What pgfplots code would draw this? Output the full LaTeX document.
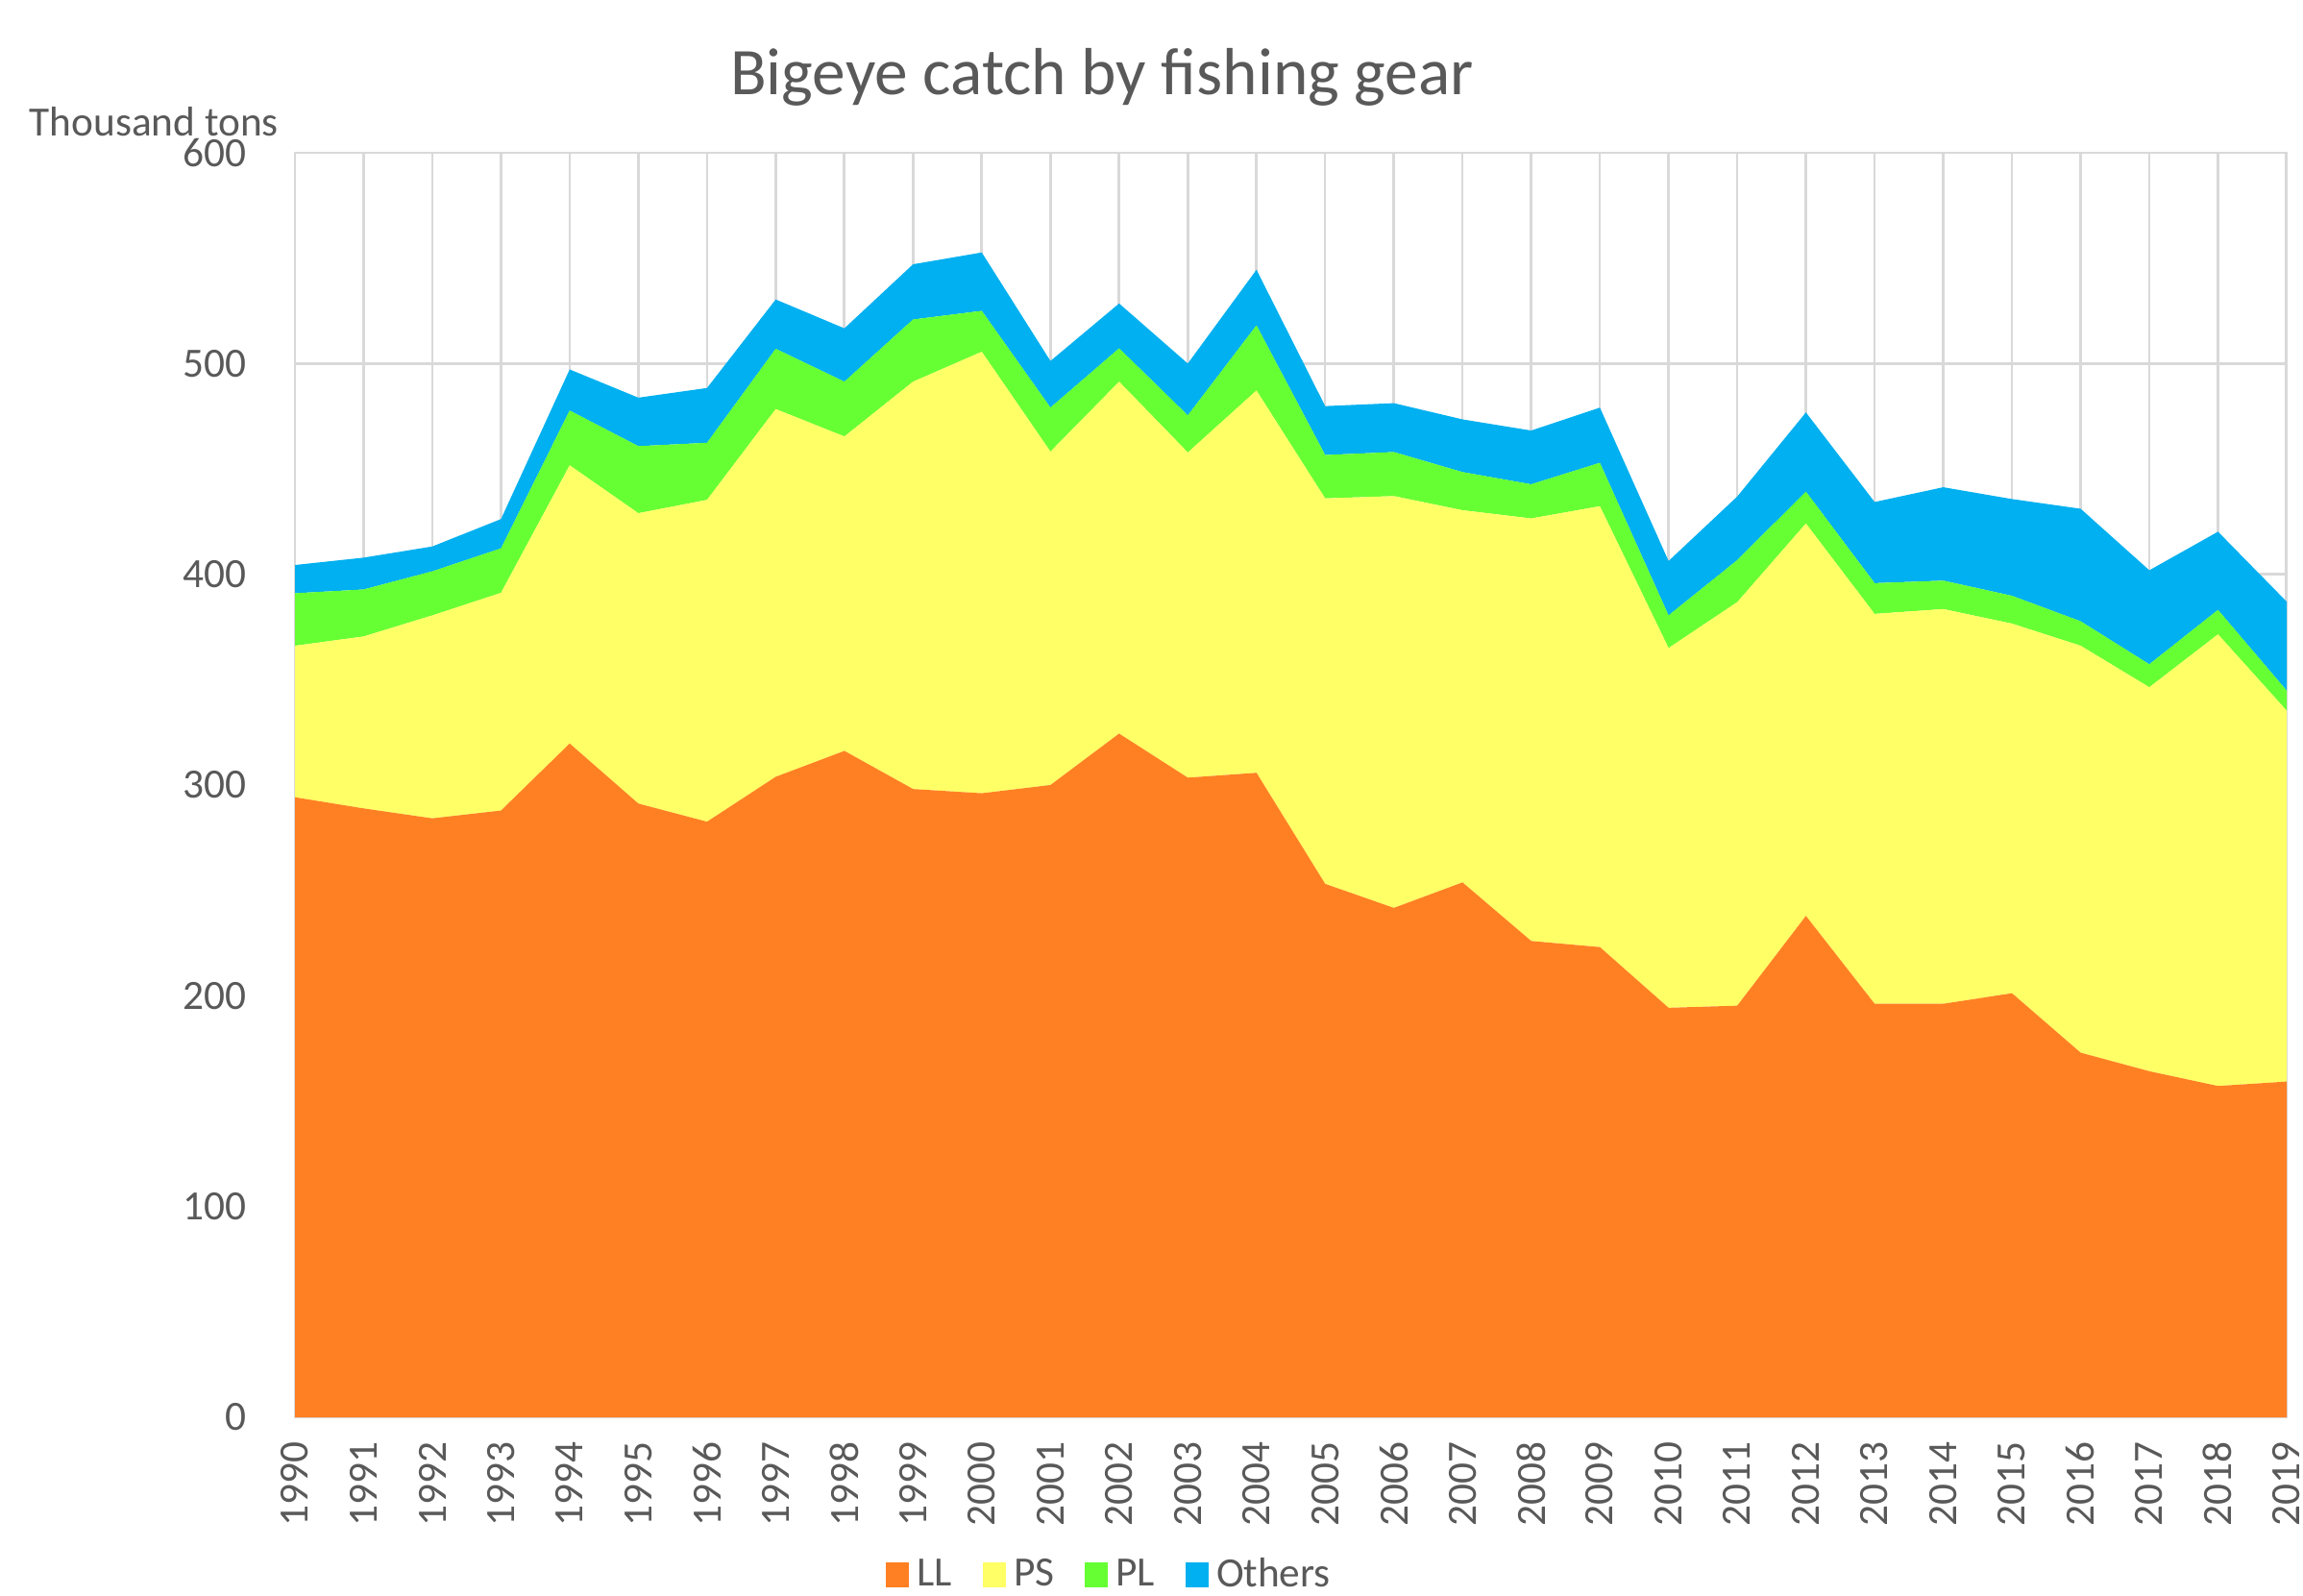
\documentclass[border=0pt]{standalone}
\usepackage{pgfplots}
\pgfplotsset{compat=1.18}
\usepackage{pgfplotstable}
\usepackage{fontspec}
\setmainfont{Carlito}
\definecolor{llorange}{RGB}{255,128,34}
\definecolor{psyellow}{RGB}{255,255,102}
\definecolor{plgreen}{RGB}{102,255,51}
\definecolor{othblue}{RGB}{0,176,240}
\definecolor{gridgray}{RGB}{217,217,217}
\definecolor{txtgray}{RGB}{89,89,89}
\pgfplotstableread{
year LL PS PL Others
1990 294.2 71.9 24.9 13.4
1991 288.9 81.6 22.3 15.1
1992 284.2 96.3 20.9 11.8
1993 287.9 103.3 21.1 13.9
1994 319.7 132.0 26.0 19.5
1995 291.2 137.8 31.8 23.0
1996 282.6 152.7 27.1 26.0
1997 303.9 174.5 28.6 23.4
1998 316.2 149.2 26.0 25.3
1999 298.1 193.3 29.5 26.2
2000 296.1 209.5 19.4 27.7
2001 300.0 158.2 20.9 22.1
2002 324.4 167.0 15.8 21.3
2003 303.5 154.3 17.6 24.6
2004 305.8 181.4 30.9 26.4
2005 253.1 182.9 20.6 23.2
2006 241.7 195.4 20.9 23.2
2007 253.8 176.6 18.1 25.0
2008 226.0 200.5 16.2 25.5
2009 223.1 209.2 20.6 26.2
2010 194.3 170.7 15.5 25.8
2011 195.3 191.5 19.9 30.2
2012 237.9 186.2 15.1 37.6
2013 196.2 185.0 14.6 38.5
2014 196.2 187.3 13.5 44.3
2015 201.2 175.4 13.2 45.9
2016 173.0 193.1 11.6 53.4
2017 164.2 182.2 10.9 44.6
2018 157.2 214.3 11.6 37.1
2019 159.3 176.0 9.5 42.2
}\datatable
\begin{document}
\begin{tikzpicture}
\begin{axis}[
  at={(0,0)}, anchor=south west,
  scale only axis,
  width=621.9pt, height=394.8pt,
  xmin=1990, xmax=2019, ymin=0, ymax=600,
  xtick={1990,...,2019}, ytick={0,100,...,600},
  stack plots=y,
  grid=major,
  grid style={draw=gridgray, line width=0.8pt},
  axis line style={draw=gridgray, line width=0.8pt},
  tick style={draw=none},
  /pgf/number format/assume math mode=true,
  /pgf/number format/1000 sep={},
  x tick label style={rotate=90, anchor=east, inner sep=0pt, font=\fontsize{13}{15}\selectfont, text=txtgray},
  y tick label style={anchor=east, inner sep=0pt, font=\fontsize{13}{15}\selectfont, text=txtgray},
  xticklabel shift=7.5pt,
  yticklabel shift=15pt,
  legend columns=4,
  legend style={draw=none, fill=none, at={(axis description cs:0.4096,-0.1246)}, anchor=center,
    font=\fontsize{13}{15}\selectfont, text=txtgray,
    /tikz/every even column/.append style={column sep=8pt},
    nodes={inner sep=1.5pt}},
  legend image code/.code={\fill[#1] (0pt,-3.9pt) rectangle (7.2pt,3.9pt);},
]
\addplot[fill=llorange, draw=none] table[x=year, y=LL]{\datatable} \closedcycle;
\addlegendentry{\hspace{1pt}LL}
\addplot[fill=psyellow, draw=none] table[x=year, y=PS]{\datatable} \closedcycle;
\addlegendentry{\hspace{1pt}PS}
\addplot[fill=plgreen, draw=none] table[x=year, y=PL]{\datatable} \closedcycle;
\addlegendentry{\hspace{1pt}PL}
\addplot[fill=othblue, draw=none] table[x=year, y=Others]{\datatable} \closedcycle;
\addlegendentry{\hspace{1pt}Others}
\end{axis}
\node[anchor=base, text=txtgray, font=\fontsize{20.8}{25}\selectfont, inner sep=0pt] at (252pt,413pt) {Bigeye catch by fishing gear};
\node[anchor=base west, text=txtgray, font=\fontsize{13}{15}\selectfont, inner sep=0pt] at (-83.1pt,399.9pt) {Thousand tons};
\pgfresetboundingbox
\path (-92.1pt,-55.5pt) rectangle (627pt,442.5pt);
\end{tikzpicture}
\end{document}
